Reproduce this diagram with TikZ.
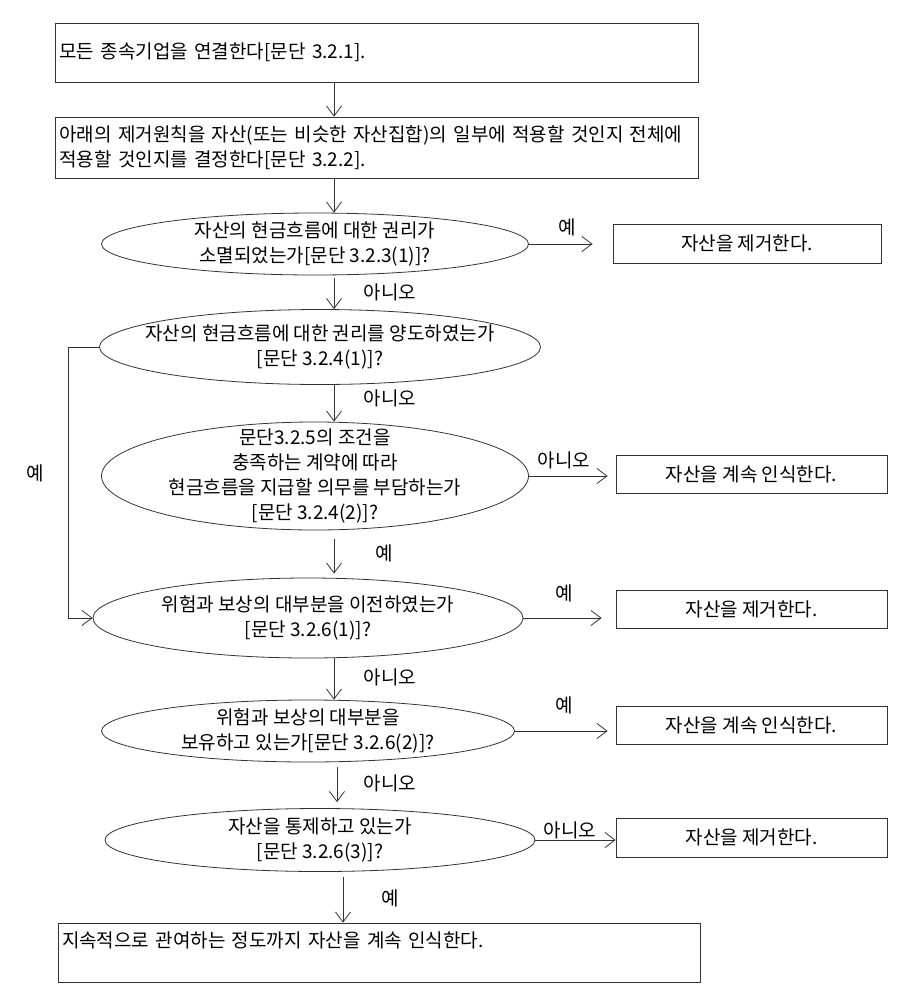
\documentclass[tikz,border=0pt]{standalone}
\usepackage{fontspec}
\setmainfont{Noto Sans CJK KR}
\usetikzlibrary{arrows.meta, shapes.geometric}

\tikzset{
  box/.style={draw=black!80, rectangle, inner sep=0.75pt},
  dec/.style={draw=black!80, ellipse, inner sep=0pt},
  qtext/.style={align=center, inner sep=0pt},
  lbl/.style={inner sep=0pt},
  arr/.style={draw=black!80, -{Straight Barb[length=10pt,width=15pt]}},
}

\begin{document}
\begin{tikzpicture}[x=1pt,y=1pt,yscale=-1,xscale=1, line width=0.8pt, font=\fontsize{19pt}{25pt}\selectfont]
\useasboundingbox (0,0) rectangle (907,1005);

%Shape: Rectangle [first step]
\node[box, minimum width=643, minimum height=59, text width=634, align=left] (b1) at (376.5,52.5) {모든 종속기업을 연결한다[문단 3.2.1].};
%Shape: Rectangle [second step]
\node[box, minimum width=643, minimum height=61, text width=634, align=left] (b2) at (376.5,147.5) {아래의 제거원칙을 자산(또는 비슷한 자산집합)의 일부에 적용할 것인지 전체에\\적용할 것인지를 결정한다[문단 3.2.2].};

%Shape: Ellipse [questions]
\node[dec, minimum width=427, minimum height=62] (e1) at (315,244) {};
\node[dec, minimum width=441, minimum height=75] (e2) at (320,347) {};
\node[dec, minimum width=427, minimum height=108] (e3) at (315,476) {};
\node[dec, minimum width=430, minimum height=80] (e4) at (308,618) {};
\node[dec, minimum width=413, minimum height=62] (e5) at (308,731) {};
\node[dec, minimum width=430, minimum height=63] (e6) at (320,840) {};

% Text Node
\node[qtext] (q1) at (e1) {자산의 현금흐름에 대한 권리가\\소멸되었는가[문단 3.2.3(1)]?};
\node[qtext] (q2) at (e2) {자산의 현금흐름에 대한 권리를 양도하였는가\\{}[문단 3.2.4(1)]?};
\node[qtext] (q3) at (e3) {문단3.2.5의 조건을\\충족하는 계약에 따라\\현금흐름을 지급할 의무를 부담하는가\\{}[문단 3.2.4(2)]?};
\node[qtext] (q4) at (e4) {위험과 보상의 대부분을 이전하였는가\\{}[문단 3.2.6(1)]?};
\node[qtext] (q5) at (e5) {위험과 보상의 대부분을\\보유하고 있는가[문단 3.2.6(2)]?};
\node[qtext] (q6) at (e6) {자산을 통제하고 있는가\\{}[문단 3.2.6(3)]?};

%Shape: Rectangle [results]
\node[box, minimum width=268, minimum height=39] (r1) at (747,243.5) {자산을 제거한다.};
\node[box, minimum width=271, minimum height=38] (r2) at (751.5,474) {자산을 계속 인식한다.};
\node[box, minimum width=271, minimum height=38] (r3) at (751.5,609) {자산을 제거한다.};
\node[box, minimum width=271, minimum height=38] (r4) at (751.5,725) {자산을 계속 인식한다.};
\node[box, minimum width=271, minimum height=39] (r5) at (751.5,837.5) {자산을 제거한다.};

%Shape: Rectangle [last step]
\node[box, minimum width=642, minimum height=59, text width=634, align=left] (b3) at (379,952.5) {지속적으로 관여하는 정도까지 자산을 계속 인식한다.\\\mbox{}};

% columns of the down arrows
\coordinate (c1) at (334,0);
\coordinate (c2) at (337,0);
\coordinate (c3) at (343,0);
\coordinate (lx) at (68,0);

%Straight Lines [down]
\draw[arr] (b1.south -| c1) -- (b2.north -| c1);
\draw[arr] (b2.south -| c1) -- (e1.north -| c1);
\draw[arr, shorten <=3pt] (e1.south -| c1) -- (e2.north -| c1);
\draw[arr] (e2.south -| c1) -- (e3.north -| c1);
\draw[arr, shorten <=9pt, shorten >=4pt] (e3.south -| c1) -- (e4.north -| c1);
\draw[arr] (e4.south -| c1) -- (e5.north -| c1);
\draw[arr, shorten <=5pt, shorten >=6pt] (e5.south -| c2) -- (e6.north -| c2);
\draw[arr, shorten <=5pt] (e6.south -| c3) -- (b3.north -| c3);

%Straight Lines [right]
\draw[arr, shorten >=20pt] (e1.east) -- (e1.east -| r1.west);
\draw[arr, shorten >=8pt] (e3.east) -- (e3.east -| r2.west);
\draw[arr, shorten >=14pt] (e4.east) -- (e4.east -| r3.west);
\draw[arr, shorten >=8pt] (e5.east) -- (e5.east -| r4.west);
\draw[arr] (e6.east) -- (e6.east -| r5.west);

%Straight Lines [left loop]
\draw[arr] (e2.west) -- (e2.west -| lx) |- (e4.west);

% Text Node [answers]
\node[lbl] (y1) at (567,227) {예};
\node[lbl] (n1) at (390,292) {아니오};
\node[lbl] (y2) at (35,473) {예};
\node[lbl] (n2) at (390,398) {아니오};
\node[lbl] (n3) at (564,460) {아니오};
\node[lbl] (y3) at (384,553) {예};
\node[lbl] (y4) at (564,593) {예};
\node[lbl] (n4) at (390,677) {아니오};
\node[lbl] (y5) at (564,705) {예};
\node[lbl] (n5) at (390,783) {아니오};
\node[lbl] (n6) at (570,830) {아니오};
\node[lbl] (y6) at (390,898) {예};

\end{tikzpicture}
\end{document}
